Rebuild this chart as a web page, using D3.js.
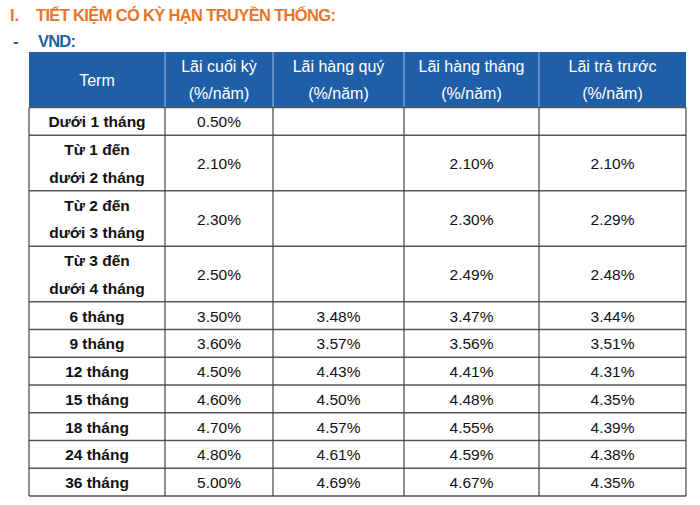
<!DOCTYPE html><html><head><meta charset="utf-8"><script src="https://d3js.org/d3.v7.min.js"></script>
<style>body{margin:0;background:#fff}svg{display:block;font-family:"Liberation Sans",Arial,sans-serif}</style></head><body><svg id="c" width="700" height="505"></svg>
<script>
const title = "TIẾT KIỆM CÓ KỲ HẠN TRUYỀN THỐNG:";
const subTitle = "VND:";
const headers = [["Term"],["Lãi cuối kỳ","(%/năm)"],["Lãi hàng quý","(%/năm)"],["Lãi hàng tháng","(%/năm)"],["Lãi trả trước","(%/năm)"]];
const terms = [["Dưới 1 tháng"],["Từ 1 đến","dưới 2 tháng"],["Từ 2 đến","dưới 3 tháng"],["Từ 3 đến","dưới 4 tháng"],["6 tháng"],["9 tháng"],["12 tháng"],["15 tháng"],["18 tháng"],["24 tháng"],["36 tháng"]];
const laiCuoiKy = ["0.50%","2.10%","2.30%","2.50%","3.50%","3.60%","4.50%","4.60%","4.70%","4.80%","5.00%"];
const laiHangQuy = ["","","","","3.48%","3.57%","4.43%","4.50%","4.57%","4.61%","4.69%"];
const laiHangThang = ["","2.10%","2.30%","2.49%","3.47%","3.56%","4.41%","4.48%","4.55%","4.59%","4.67%"];
const laiTraTruoc = ["","2.10%","2.29%","2.48%","3.44%","3.51%","4.31%","4.35%","4.39%","4.38%","4.35%"];
const colEdges = [29,165,273,404,539,686];

const svg = d3.select("#c");
const hfont = t => t.attr("font-size",16.5).attr("font-weight","bold").attr("transform-origin","0 0");
hfont(svg.append("text").attr("x",10).attr("y",21).attr("fill","#e8742a").text("I."));
hfont(svg.append("text").attr("x",36).attr("y",21).attr("fill","#e8742a").text(title)).attr("textLength",300);
hfont(svg.append("text").attr("x",13).attr("y",47).attr("fill","#1f5fa8").text("-"));
hfont(svg.append("text").attr("x",38).attr("y",47).attr("fill","#1f5fa8").text(subTitle)).attr("textLength",38);

const rows = terms.map((t,i)=>({cells:[t,[laiCuoiKy[i]],[laiHangQuy[i]],[laiHangThang[i]],[laiTraTruoc[i]]],h:t.length}));
let acc=2; rows.forEach(r=>{r.u0=acc;acc+=r.h;r.u1=acc;});
const y = d3.scaleLinear().domain([0,acc]).range([52,496]);

svg.append("rect").attr("x",colEdges[0]).attr("y",y(0)).attr("width",colEdges[5]-colEdges[0]).attr("height",y(2)-y(0)).attr("fill","#1f5fa8");
const hg = svg.selectAll(".h").data(headers).join("g");
hg.each(function(lines,j){
  const cx=(colEdges[j]+colEdges[j+1])/2, n=lines.length, mid=(y(0)+y(2))/2;
  d3.select(this).selectAll("text").data(lines).join("text").attr("x",cx).attr("text-anchor","middle")
    .attr("y",(d,k)=>mid+(k-(n-1)/2)*27+6).attr("fill","#fff").attr("font-size",16).text(d=>d);
});
svg.selectAll(".hl").data(colEdges.slice(1,5)).join("line").attr("x1",d=>d).attr("x2",d=>d).attr("y1",y(0)).attr("y2",y(2)).attr("stroke","#9fb8d8").attr("stroke-width",1);

const rg = svg.selectAll(".r").data(rows).join("g");
rg.each(function(r){
  const g=d3.select(this), mid=(y(r.u0)+y(r.u1))/2;
  r.cells.forEach((lines,j)=>{
    const cx=(colEdges[j]+colEdges[j+1])/2, n=lines.length;
    g.selectAll(".c"+j).data(lines).join("text").attr("x",cx).attr("text-anchor","middle")
      .attr("y",(d,k)=>mid+(k-(n-1)/2)*27.8+6).attr("fill","#111").attr("font-size",15.5)
      .attr("font-weight",j===0?"bold":"normal").text(d=>d);
  });
});
const bounds=[...rows.map(r=>r.u0),acc];
svg.selectAll(".rl").data(bounds).join("line").attr("x1",colEdges[0]).attr("x2",colEdges[5]).attr("y1",d=>y(d)).attr("y2",d=>y(d)).attr("stroke","#555").attr("stroke-width",1.4);
svg.selectAll(".cl").data(colEdges).join("line").attr("x1",d=>d).attr("x2",d=>d).attr("y1",y(2)).attr("y2",y(acc)).attr("stroke","#444").attr("stroke-width",1.2);
</script></body></html>
